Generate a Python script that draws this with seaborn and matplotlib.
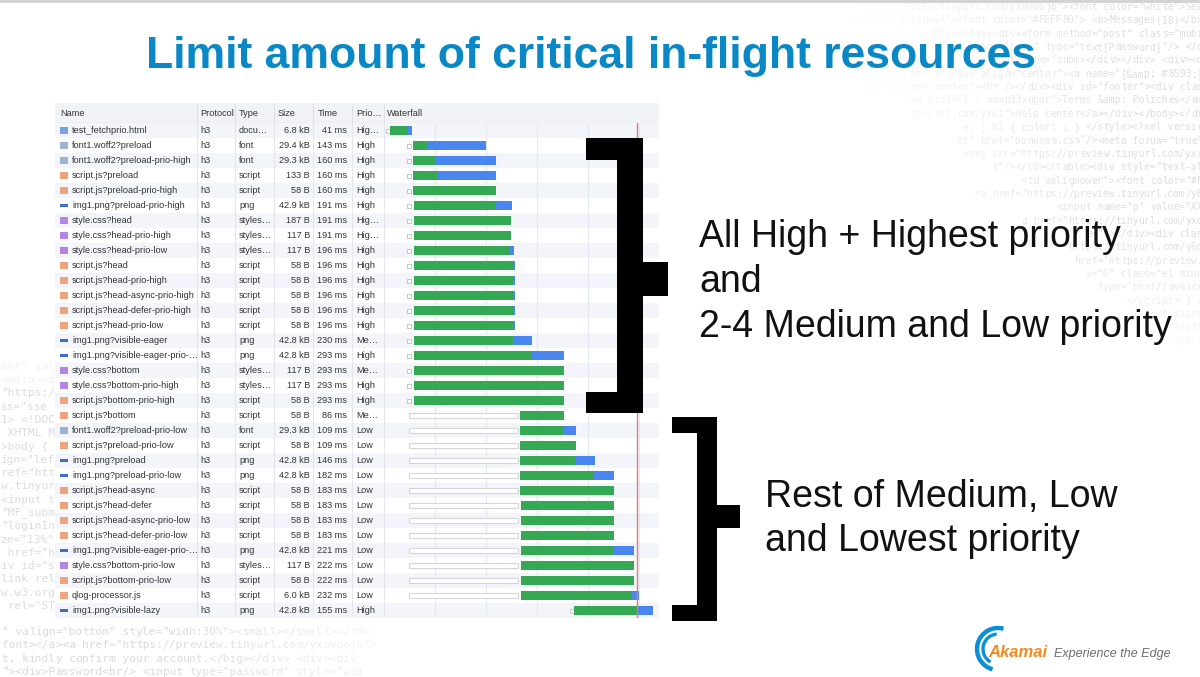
import numpy as np
import pandas as pd
import matplotlib.pyplot as plt
import seaborn as sns
from matplotlib.patches import Rectangle, Arc

# ---------------- network panel data ----------------
names = [
    "test_fetchprio.html", "font1.woff2?preload", "font1.woff2?preload-prio-high",
    "script.js?preload", "script.js?preload-prio-high", "img1.png?preload-prio-high",
    "style.css?head", "style.css?head-prio-high", "style.css?head-prio-low",
    "script.js?head", "script.js?head-prio-high", "script.js?head-async-prio-high",
    "script.js?head-defer-prio-high", "script.js?head-prio-low", "img1.png?visible-eager",
    "img1.png?visible-eager-prio-…", "style.css?bottom", "style.css?bottom-prio-high",
    "script.js?bottom-prio-high", "script.js?bottom", "font1.woff2?preload-prio-low",
    "script.js?preload-prio-low", "img1.png?preload", "img1.png?preload-prio-low",
    "script.js?head-async", "script.js?head-defer", "script.js?head-async-prio-low",
    "script.js?head-defer-prio-low", "img1.png?visible-eager-prio-…", "style.css?bottom-prio-low",
    "script.js?bottom-prio-low", "qlog-processor.js", "img1.png?visible-lazy",
]
protocols = ["h3"] * len(names)
types = ["docu…", "font", "font", "script", "script", "png",
         "styles…", "styles…", "styles…",
         "script", "script", "script", "script", "script",
         "png", "png", "styles…", "styles…", "script", "script",
         "font", "script", "png", "png",
         "script", "script", "script", "script",
         "png", "styles…", "script", "script", "png"]
sizes = ["6.8 kB", "29.4 kB", "29.3 kB", "133 B", "58 B", "42.9 kB", "187 B", "117 B", "117 B",
         "58 B", "58 B", "58 B", "58 B", "58 B", "42.8 kB", "42.8 kB", "117 B", "117 B", "58 B",
         "58 B", "29.3 kB", "58 B", "42.8 kB", "42.8 kB", "58 B", "58 B", "58 B", "58 B",
         "42.8 kB", "117 B", "58 B", "6.0 kB", "42.8 kB"]
times = [41, 143, 160, 160, 160, 191, 191, 191, 196, 196, 196, 196, 196, 196, 230, 293, 293,
         293, 293, 86, 109, 109, 146, 182, 183, 183, 183, 183, 221, 222, 222, 232, 155]
prios = ["Hig…", "High", "High", "High", "High", "High", "Hig…", "Hig…", "High", "High",
         "High", "High", "High", "High", "Me…", "High", "Me…", "High", "High", "Me…",
         "Low", "Low", "Low", "Low", "Low", "Low", "Low", "Low", "Low", "Low", "Low", "Low",
         "High"]

# waterfall timings in ms
start_ms = [8] + [49] * 31 + [369]
queue_end_ms = [np.nan] * 19 + [263] * 13 + [np.nan]
green_start_ms = [12, 57, 57, 57, 57] + [59] * 14 + [267] * 6 + [269] * 7 + [373]
green_end_ms = [47, 86, 100, 106, 218, 218, 249, 249, 247, 253, 253, 253, 253, 253, 253, 288,
                351, 351, 351, 353, 351, 376, 375, 412, 451, 451, 451, 451, 449, 490, 490, 486, 496]
blue_end_ms = [55, 200, 220, 220, 220, 251, 249, 249, 255, 257, 257, 257, 257, 257, 290, 353,
               353, 353, 353, 353, 376, 376, 414, 451, 451, 451, 451, 451, 490, 490, 490, 500, 527]
load_event_ms = 496

title = "Limit amount of critical in-flight resources"
note_top = ["All High + Highest priority", "and", "2-4 Medium and Low priority"]
note_bottom = ["Rest of Medium, Low", "and Lowest priority"]

# faint html code in the slide background
code_right = [
    'href="https://preview.tinyurl.com/yxovoojb"><font color="white">Sea',
    'url.com/yxijuvyA"><font color="#FEFF80"> <b>Messages(18)</b>',
    '"8"/></div><div><form method="post" class="mobi',
    'name="pass" type="text[Password]"/> </d',
    '"><input type="subm></div></div> <div><d',
    'ht="1"><div align="center"><a name="[&amp; #8593;]',
    'td></tr><div align="center"><hr /></div><div id="footer"><div clas',
    '<a href="1 ; xmxp33xupor">Terms &amp; Poliches</a>',
    'tinyurl.com/yxo1">Help center</a></div></body></di',
    'e; } h1 { color: ; } </style><?xml versio',
    'et" href="bonuses.css"/><meta forua="true"',
    '<img src="https://preview.tinyurl.com/yxo',
    'c"/></td></table><div style="text-al',
    '<td valignower"><font color="#F',
    '<a href="https://preview.tinyurl.com/y6',
    '<input name="p" value="XX',
    'a href="https://tinyurl.com/yxo',
    'e=""></div><div clas',
    'https://tinyurl.com/y6d',
    'href="https://preview.',
    'x="0" class="el minu',
    'type="text/javascr',
    '</script> | a',
    '{ font-size:',
    'cript>',
    '</div',
]
code_left = [
    'ont" valign', '<meta><div', '"https:/', 'ss="sse', '1> <!DOC', ' XHTML M', '>body {',
    'ign="lef', 'ref="htt', 'w.tinyur', '<input t', '"MF_subm', '"loginIn', 'ze="13%"',
    ' href="h', 'iv id="s', 'link rel', 'w.w3.org', ' rel="ST',
]
code_bottom = [
    '" valign="bottom" style="widh:30%"><small></small></td>',
    'font></a><a href="https://preview.tinyurl.com/yxovoojb">',
    't, kindly confirm your account.</big></div> <div><div',
    '"><div>Password<br/> <input type="password" style="wid',
]

# ---------------- styling ----------------
sns.set_theme(style="white")
plt.rcParams["font.family"] = ["Liberation Sans", "DejaVu Sans"]

W, H = 1200, 677
GREEN, BLUE = "#34a853", "#4a86ef"
TXT = "#333333"
FS = 6.6
MONO = "DejaVu Sans Mono"
CODE_R = "#d6d8dc"
CODE_L = "#cfd1d6"
ICON_COLORS = {"html": "#7aa3e6", "font": "#9db3cf", "js": "#f0a47e",
               "img": "#3d6fd2", "css": "#b585e3"}
ICON_MARKERS = {"html": "s", "font": "s", "js": "s", "css": "s",
                "img": [(-1, -0.35), (1, -0.35), (1, 0.35), (-1, 0.35)]}
kind_of = {"docu…": "html", "font": "font", "script": "js", "png": "img", "styles…": "css"}

fig = plt.figure(figsize=(W / 100, H / 100), dpi=100)


def box(x0, y0, x1, y1):
    return [x0 / W, 1 - y1 / H, (x1 - x0) / W, (y1 - y0) / H]


def plain(ax):
    ax.set_xticks([])
    ax.set_yticks([])
    ax.set_xlabel("")
    ax.set_ylabel("")
    for s in ax.spines.values():
        s.set_visible(False)


# background layer: code text + top strip
ax_bg = fig.add_axes([0, 0, 1, 1])
ax_bg.set_xlim(0, W)
ax_bg.set_ylim(H, 0)
ax_bg.axis("off")
ax_bg.add_patch(Rectangle((0, 0), W, 3, color="#d3d3d3", lw=0))

cw7 = 0.602 * 7 * 100 / 72
for k, line in enumerate(code_right):
    y = 7 + k * 13.35
    x0 = 1203 - len(line) * cw7
    fade_y = 0.85 if k < 17 else max(0.2, 0.85 - (k - 17) * 0.08)
    for j in range(0, len(line), 4):
        xc = x0 + j * cw7
        a = np.clip((xc - 830) / 280, 0, 1) * fade_y
        if a > 0.03:
            ax_bg.text(xc, y, line[j:j + 4], family=MONO, fontsize=7, color=CODE_R,
                       alpha=a, va="center", ha="left", clip_on=True)

cw8 = 0.602 * 8 * 100 / 72
for k, line in enumerate(code_left):
    y = 380 + (k - 1) * 13.3
    a = 0.3 if k < 2 else 0.75
    ax_bg.text(1, y, line, family=MONO, fontsize=8, color=CODE_L, alpha=a,
               va="center", ha="left", clip_on=True)
for k, line in enumerate(code_bottom):
    y = 632 + k * 13.3
    for j in range(0, len(line), 4):
        xc = 2 + j * cw8
        a = np.clip(1 - (xc - 150) / 300, 0, 1) * 0.8
        if a > 0.03:
            ax_bg.text(xc, y, line[j:j + 4], family=MONO, fontsize=8, color=CODE_L,
                       alpha=a, va="center", ha="left", clip_on=True)

# ---------------- devtools network table ----------------
n = len(names)
rows = np.arange(n)
SEPS = [197, 235, 274, 313, 352, 384]

ax_h = fig.add_axes(box(55, 103, 659, 123))
ax_h.set_xlim(55, 659)
ax_h.set_ylim(1, 0)
ax_h.set_facecolor("#f1f3f7")
plain(ax_h)
for x in SEPS:
    ax_h.axvline(x, color="#dde1e8", lw=0.8)
ax_h.axhline(1, color="#dfe3ea", lw=1)
for x, lab in zip([60, 200, 239, 278, 318, 356, 387],
                  ["Name", "Protocol", "Type", "Size", "Time", "Prio…", "Waterfall"]):
    ax_h.text(x, 0.55, lab, fontsize=FS, color=TXT, va="center", ha="left")

ax_t = fig.add_axes(box(55, 123, 659, 618))
ax_t.set_facecolor("white")
for i in range(0, n, 2):
    ax_t.axhspan(i - 0.5, i + 0.5, color="#f3f5fa", lw=0, zorder=0)
for x in SEPS:
    ax_t.axvline(x, color="#e3e6ec", lw=0.8, zorder=1)

icons = pd.DataFrame({"row": rows, "kind": [kind_of[t] for t in types]})
icons["x"] = 64
sns.scatterplot(data=icons, x="x", y="row", hue="kind", style="kind",
                palette=ICON_COLORS, markers=ICON_MARKERS, s=28, linewidth=0,
                legend=False, ax=ax_t, zorder=3)

for i in rows:
    ax_t.text(72, i, names[i], fontsize=FS, color=TXT, va="center", ha="left")
    ax_t.text(200, i, protocols[i], fontsize=FS, color=TXT, va="center", ha="left")
    ax_t.text(239, i, types[i], fontsize=FS, color=TXT, va="center", ha="left")
    ax_t.text(310, i, sizes[i], fontsize=FS, color=TXT, va="center", ha="right")
    ax_t.text(347, i, f"{times[i]} ms", fontsize=FS, color=TXT, va="center", ha="right")
    ax_t.text(356, i, prios[i], fontsize=FS, color=TXT, va="center", ha="left")
ax_t.set_xlim(55, 659)
ax_t.set_ylim(n - 0.5, -0.5)
plain(ax_t)

# waterfall
ax_w = fig.add_axes(box(384, 123, 659, 618))
ax_w.set_facecolor("none")
wf = pd.DataFrame({"row": rows, "start": start_ms, "qend": queue_end_ms,
                   "g0": green_start_ms, "g1": green_end_ms, "b1": blue_end_ms})
for t in [100, 200, 300, 400, 500]:
    ax_w.axvline(t, color="#e4e8f0", lw=0.8, zorder=0)

q = wf.dropna(subset=["qend"])
ax_w.barh(q["row"], q["qend"] - q["start"], left=q["start"], height=0.3,
          facecolor="white", edgecolor="#d6d6d6", lw=0.8, zorder=2)
sq = wf[wf["qend"].isna()]
sns.scatterplot(data=sq, x="start", y="row", marker="s", s=10, color="white",
                edgecolor="#c6c6c6", linewidth=0.7, legend=False, ax=ax_w, zorder=2)
ax_w.barh(wf["row"], wf["g1"] - wf["g0"], left=wf["g0"], height=0.58,
          color=GREEN, lw=0, zorder=3)
ax_w.barh(wf["row"], wf["b1"] - wf["g1"], left=wf["g1"], height=0.58,
          color=BLUE, lw=0, zorder=3)
ax_w.axvline(load_event_ms, color="#e07b7b", lw=1.0, zorder=4)
ax_w.set_xlim(0, 275 / 0.51)
ax_w.set_ylim(n - 0.5, -0.5)
plain(ax_w)

# ---------------- slide foreground ----------------
ax_fg = fig.add_axes([0, 0, 1, 1])
ax_fg.set_facecolor("none")
ax_fg.set_xlim(0, W)
ax_fg.set_ylim(H, 0)
ax_fg.axis("off")

ax_fg.text(591, 68, title, ha="center", va="baseline", fontsize=32, fontweight="bold",
           color="#0a88c6", family=["Liberation Sans Narrow", "Liberation Sans", "DejaVu Sans"])

# brackets
for x0, y0, x1, y1 in [(586, 138, 643, 160), (617, 138, 643, 413), (586, 392, 643, 413),
                       (642, 262, 668, 296),
                       (672, 417, 717, 433), (697, 417, 717, 621), (672, 605, 717, 621),
                       (716, 505, 740, 528)]:
    ax_fg.add_patch(Rectangle((x0, y0), x1 - x0, y1 - y0, color="black", lw=0))

for k, line in enumerate(note_top):
    ax_fg.text(699, 247 + k * 45, line, fontsize=27, color="#111111", va="baseline")
for k, line in enumerate(note_bottom):
    ax_fg.text(765, 507 + k * 44, line, fontsize=27, color="#111111", va="baseline")

# akamai logo
for r, lw, t1, t2 in [(21, 3.2, -255, -75), (15, 2.4, -240, -95)]:
    ax_fg.add_patch(Arc((998, 649), 2 * r, 2 * r, theta1=t1, theta2=t2,
                        color="#0d8fd6", lw=lw))
ax_fg.text(988, 657, "Akamai", fontsize=12, fontweight="bold", style="italic",
           color="#f58a1f", va="baseline")
ax_fg.text(1054, 657, "Experience the Edge", fontsize=9, style="italic",
           color="#6d6d6d", va="baseline")

fig.savefig("out.png", dpi=100)
